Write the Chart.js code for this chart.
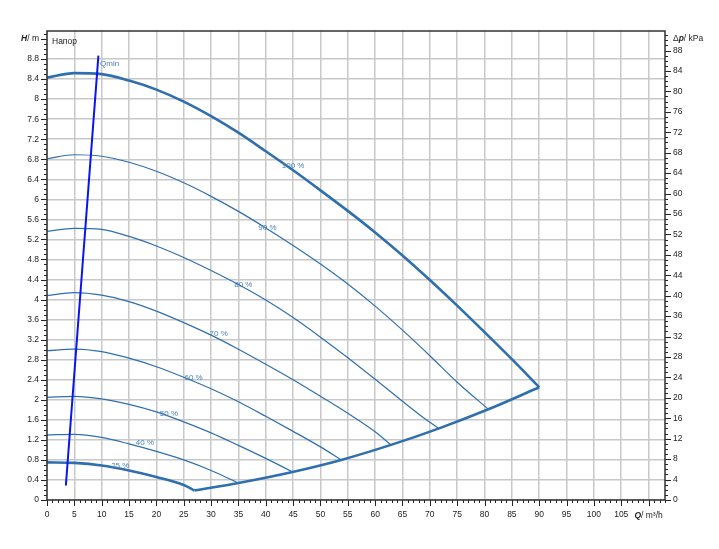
<!DOCTYPE html>
<html>
<head>
<meta charset="utf-8">
<title>Напор</title>
<script src="https://cdn.jsdelivr.net/npm/chart.js@4.4.1/dist/chart.umd.min.js"></script>
<style>
  body { margin: 0; background: #fff; }
  canvas { display: block; }
</style>
</head>
<body>
<canvas id="pumpChart" width="719" height="549"></canvas>
<script>
// pump head curves: Q in m3/h, H in m
const q100 = [0, 5, 10, 15, 20, 25, 30, 35, 40, 45, 50, 55, 60, 65, 70, 75, 80, 85, 90];
const h100 = [8.43, 8.52, 8.50, 8.37, 8.19, 7.95, 7.66, 7.33, 6.96, 6.58, 6.18, 5.77, 5.34, 4.88, 4.39, 3.88, 3.35, 2.81, 2.25];
const q90 = [0, 5, 10, 15, 20, 25, 30, 35, 40, 45, 50, 55, 60, 65, 70, 75, 80.7];
const h90 = [6.81, 6.89, 6.86, 6.74, 6.56, 6.33, 6.06, 5.76, 5.43, 5.08, 4.71, 4.31, 3.87, 3.39, 2.88, 2.35, 1.81];
const q80 = [0, 5, 10, 15, 20, 25, 30, 35, 40, 45, 50, 55, 60, 65, 70, 71.7];
const h80 = [5.36, 5.42, 5.40, 5.26, 5.07, 4.84, 4.58, 4.30, 3.99, 3.64, 3.25, 2.84, 2.41, 1.97, 1.55, 1.43];
const q70 = [0, 5, 10, 15, 20, 25, 30, 35, 40, 45, 50, 55, 60, 62.9];
const h70 = [4.08, 4.14, 4.09, 3.96, 3.77, 3.54, 3.29, 3.01, 2.71, 2.40, 2.07, 1.73, 1.36, 1.10];
const q60 = [0, 5, 10, 15, 20, 25, 30, 35, 40, 45, 50, 53.8];
const h60 = [2.98, 3.01, 2.96, 2.83, 2.66, 2.45, 2.22, 1.96, 1.67, 1.37, 1.06, 0.80];
const q50 = [0, 5, 10, 15, 20, 25, 30, 35, 40, 44.9];
const h50 = [2.05, 2.07, 2.02, 1.91, 1.76, 1.56, 1.34, 1.09, 0.83, 0.56];
const q40 = [0, 5, 10, 15, 20, 25, 30, 35];
const h40 = [1.30, 1.31, 1.25, 1.12, 0.97, 0.80, 0.59, 0.34];
const q25 = [0, 5, 10, 15, 20, 25, 27];
const h25 = [0.75, 0.74, 0.69, 0.59, 0.46, 0.30, 0.19];
// lower edge of the field, through the ends of the curves
const qEdge = [27, 35, 44.9, 53.8, 62.9, 71.7, 80.7, 90];
const hEdge = [0.19, 0.34, 0.56, 0.80, 1.10, 1.43, 1.81, 2.25];
// Qmin line
const qMin = [3.45, 9.4];
const hMin = [0.29, 8.87];

const curveNames = ['100 %', '90 %', '80 %', '70 %', '60 %', '50 %', '40 %', '25 %'];
// where each curve name sits (Q, H)
const nameQ = [45, 40.3, 35.9, 31.4, 26.8, 22.3, 17.9, 13.4];
const nameH = [6.67, 5.43, 4.29, 3.31, 2.44, 1.72, 1.14, 0.68];

const hTicks = [];
for (let i = 0; i <= 22; i++) hTicks.push(i * 0.4);
const kpaTicks = [];
for (let i = 0; i <= 22; i++) kpaTicks.push(i * 4);
const qTicks = [];
for (let i = 0; i <= 22; i++) qTicks.push(i * 5);

const Q_MAX = 113;
const H_MAX = 9.36;
const RHO_G = 9.81; // kPa per m of water

const blue = '#2f6fae';
const labelBlue = '#4a80bb';
const font = '"Liberation Sans", Arial, sans-serif';

function pts(q, h) {
  return q.map((v, i) => ({ x: v, y: h[i] }));
}

function line(q, h, width, color) {
  return {
    data: pts(q, h),
    borderColor: color || blue,
    borderWidth: width,
    pointRadius: 0,
    cubicInterpolationMode: 'monotone',
    fill: false
  };
}

const decor = {
  id: 'decor',
  afterDraw(chart) {
    const { ctx, chartArea: a } = chart;
    const x = chart.scales.x, y = chart.scales.y, y2 = chart.scales.y2;
    ctx.save();

    // minor and major ticks
    ctx.strokeStyle = '#222';
    ctx.lineWidth = 1;
    ctx.beginPath();
    for (let q = 0; q <= Q_MAX; q++) {
      const px = Math.round(x.getPixelForValue(q)) + 0.5;
      ctx.moveTo(px, a.bottom);
      ctx.lineTo(px, a.bottom + (q % 5 === 0 ? 6 : 3));
    }
    for (let i = 0; i <= Math.floor(H_MAX * 10); i++) {
      const py = Math.round(y.getPixelForValue(i / 10)) + 0.5;
      ctx.moveTo(a.left, py);
      ctx.lineTo(a.left - (i % 4 === 0 ? 6 : 3), py);
    }
    for (let k = 0; k <= Math.floor(H_MAX * RHO_G); k++) {
      const py = Math.round(y2.getPixelForValue(k)) + 0.5;
      ctx.moveTo(a.right, py);
      ctx.lineTo(a.right + (k % 4 === 0 ? 6 : 3), py);
    }
    ctx.stroke();

    // frame
    ctx.strokeStyle = '#333';
    ctx.lineWidth = 1.5;
    ctx.strokeRect(a.left, a.top, a.right - a.left, a.bottom - a.top);

    // axis titles
    ctx.fillStyle = '#222';
    ctx.textBaseline = 'middle';
    function title(ital, rest, px, py, align) {
      ctx.font = 'italic bold 8.5px ' + font;
      const w1 = ctx.measureText(ital).width;
      ctx.font = '8.5px ' + font;
      const w2 = ctx.measureText(rest).width;
      let left = px;
      if (align === 'right') left = px - w1 - w2;
      if (align === 'center') left = px - (w1 + w2) / 2;
      ctx.textAlign = 'left';
      ctx.font = 'italic bold 8.5px ' + font;
      ctx.fillText(ital, left, py);
      ctx.font = '8.5px ' + font;
      ctx.fillText(rest, left + w1, py);
    }
    const titleY = y.getPixelForValue(9.2);
    title('H', '/ m', a.left - 8, titleY, 'right');
    ctx.font = '8.5px ' + font;
    ctx.textAlign = 'left';
    const wDelta = ctx.measureText('\u0394').width;
    ctx.fillText('\u0394', a.right + 8, titleY);
    title('p', '/ kPa', a.right + 8 + wDelta, titleY, 'left');
    title('Q', '/ m\u00b3/h', x.getPixelForValue(110), a.bottom + 16, 'center');

    ctx.font = '8.5px ' + font;
    ctx.textAlign = 'left';
    ctx.fillText('Напор', a.left + 5, a.top + 11);

    // curve names
    ctx.fillStyle = labelBlue;
    ctx.font = '8px ' + font;
    ctx.textAlign = 'center';
    curveNames.forEach((n, i) => {
      ctx.fillText(n, x.getPixelForValue(nameQ[i]), y.getPixelForValue(nameH[i]));
    });
    ctx.textAlign = 'left';
    ctx.fillText('Qmin', x.getPixelForValue(9.7), y.getPixelForValue(8.7));
    ctx.restore();
  }
};

const gridStyle = { color: '#c8c8c8', lineWidth: 1.5, drawTicks: false };
const tickFont = { family: font, size: 8.5 };

new Chart(document.getElementById('pumpChart'), {
  type: 'line',
  data: {
    datasets: [
      line(qMin, hMin, 2, '#0a14f0'),
      line(q100, h100, 2.6),
      line(q90, h90, 1.2),
      line(q80, h80, 1.2),
      line(q70, h70, 1.2),
      line(q60, h60, 1.2),
      line(q50, h50, 1.2),
      line(q40, h40, 1.2),
      line(q25, h25, 2.6),
      line(qEdge, hEdge, 2.6)
    ]
  },
  options: {
    responsive: false,
    animation: false,
    layout: { padding: { top: 31, left: 0, right: 0, bottom: 0 } },
    plugins: {
      legend: { display: false },
      tooltip: { enabled: false }
    },
    scales: {
      x: {
        type: 'linear',
        min: 0,
        max: Q_MAX,
        grid: gridStyle,
        border: { display: false },
        afterBuildTicks: s => { s.ticks = qTicks.map(v => ({ value: v })); },
        afterFit: s => { s.height = 49; },
        ticks: {
          color: '#222',
          font: tickFont,
          padding: 10,
          maxRotation: 0,
          autoSkip: false,
          callback: v => (v > 105 ? '' : String(v))
        }
      },
      y: {
        type: 'linear',
        position: 'left',
        min: 0,
        max: H_MAX,
        grid: gridStyle,
        border: { display: false },
        afterBuildTicks: s => { s.ticks = hTicks.map(v => ({ value: v })); },
        afterFit: s => { s.width = 47; },
        ticks: {
          color: '#222',
          font: tickFont,
          padding: 8,
          autoSkip: false,
          callback: v => String(Math.round(v * 10) / 10)
        }
      },
      y2: {
        type: 'linear',
        position: 'right',
        min: 0,
        max: H_MAX * RHO_G,
        grid: { display: false, drawTicks: false },
        border: { display: false },
        afterBuildTicks: s => { s.ticks = kpaTicks.map(v => ({ value: v })); },
        afterFit: s => { s.width = 54; },
        ticks: {
          color: '#222',
          font: tickFont,
          padding: 8,
          autoSkip: false,
          callback: v => String(v)
        }
      }
    }
  },
  plugins: [decor]
});
</script>
</body>
</html>
